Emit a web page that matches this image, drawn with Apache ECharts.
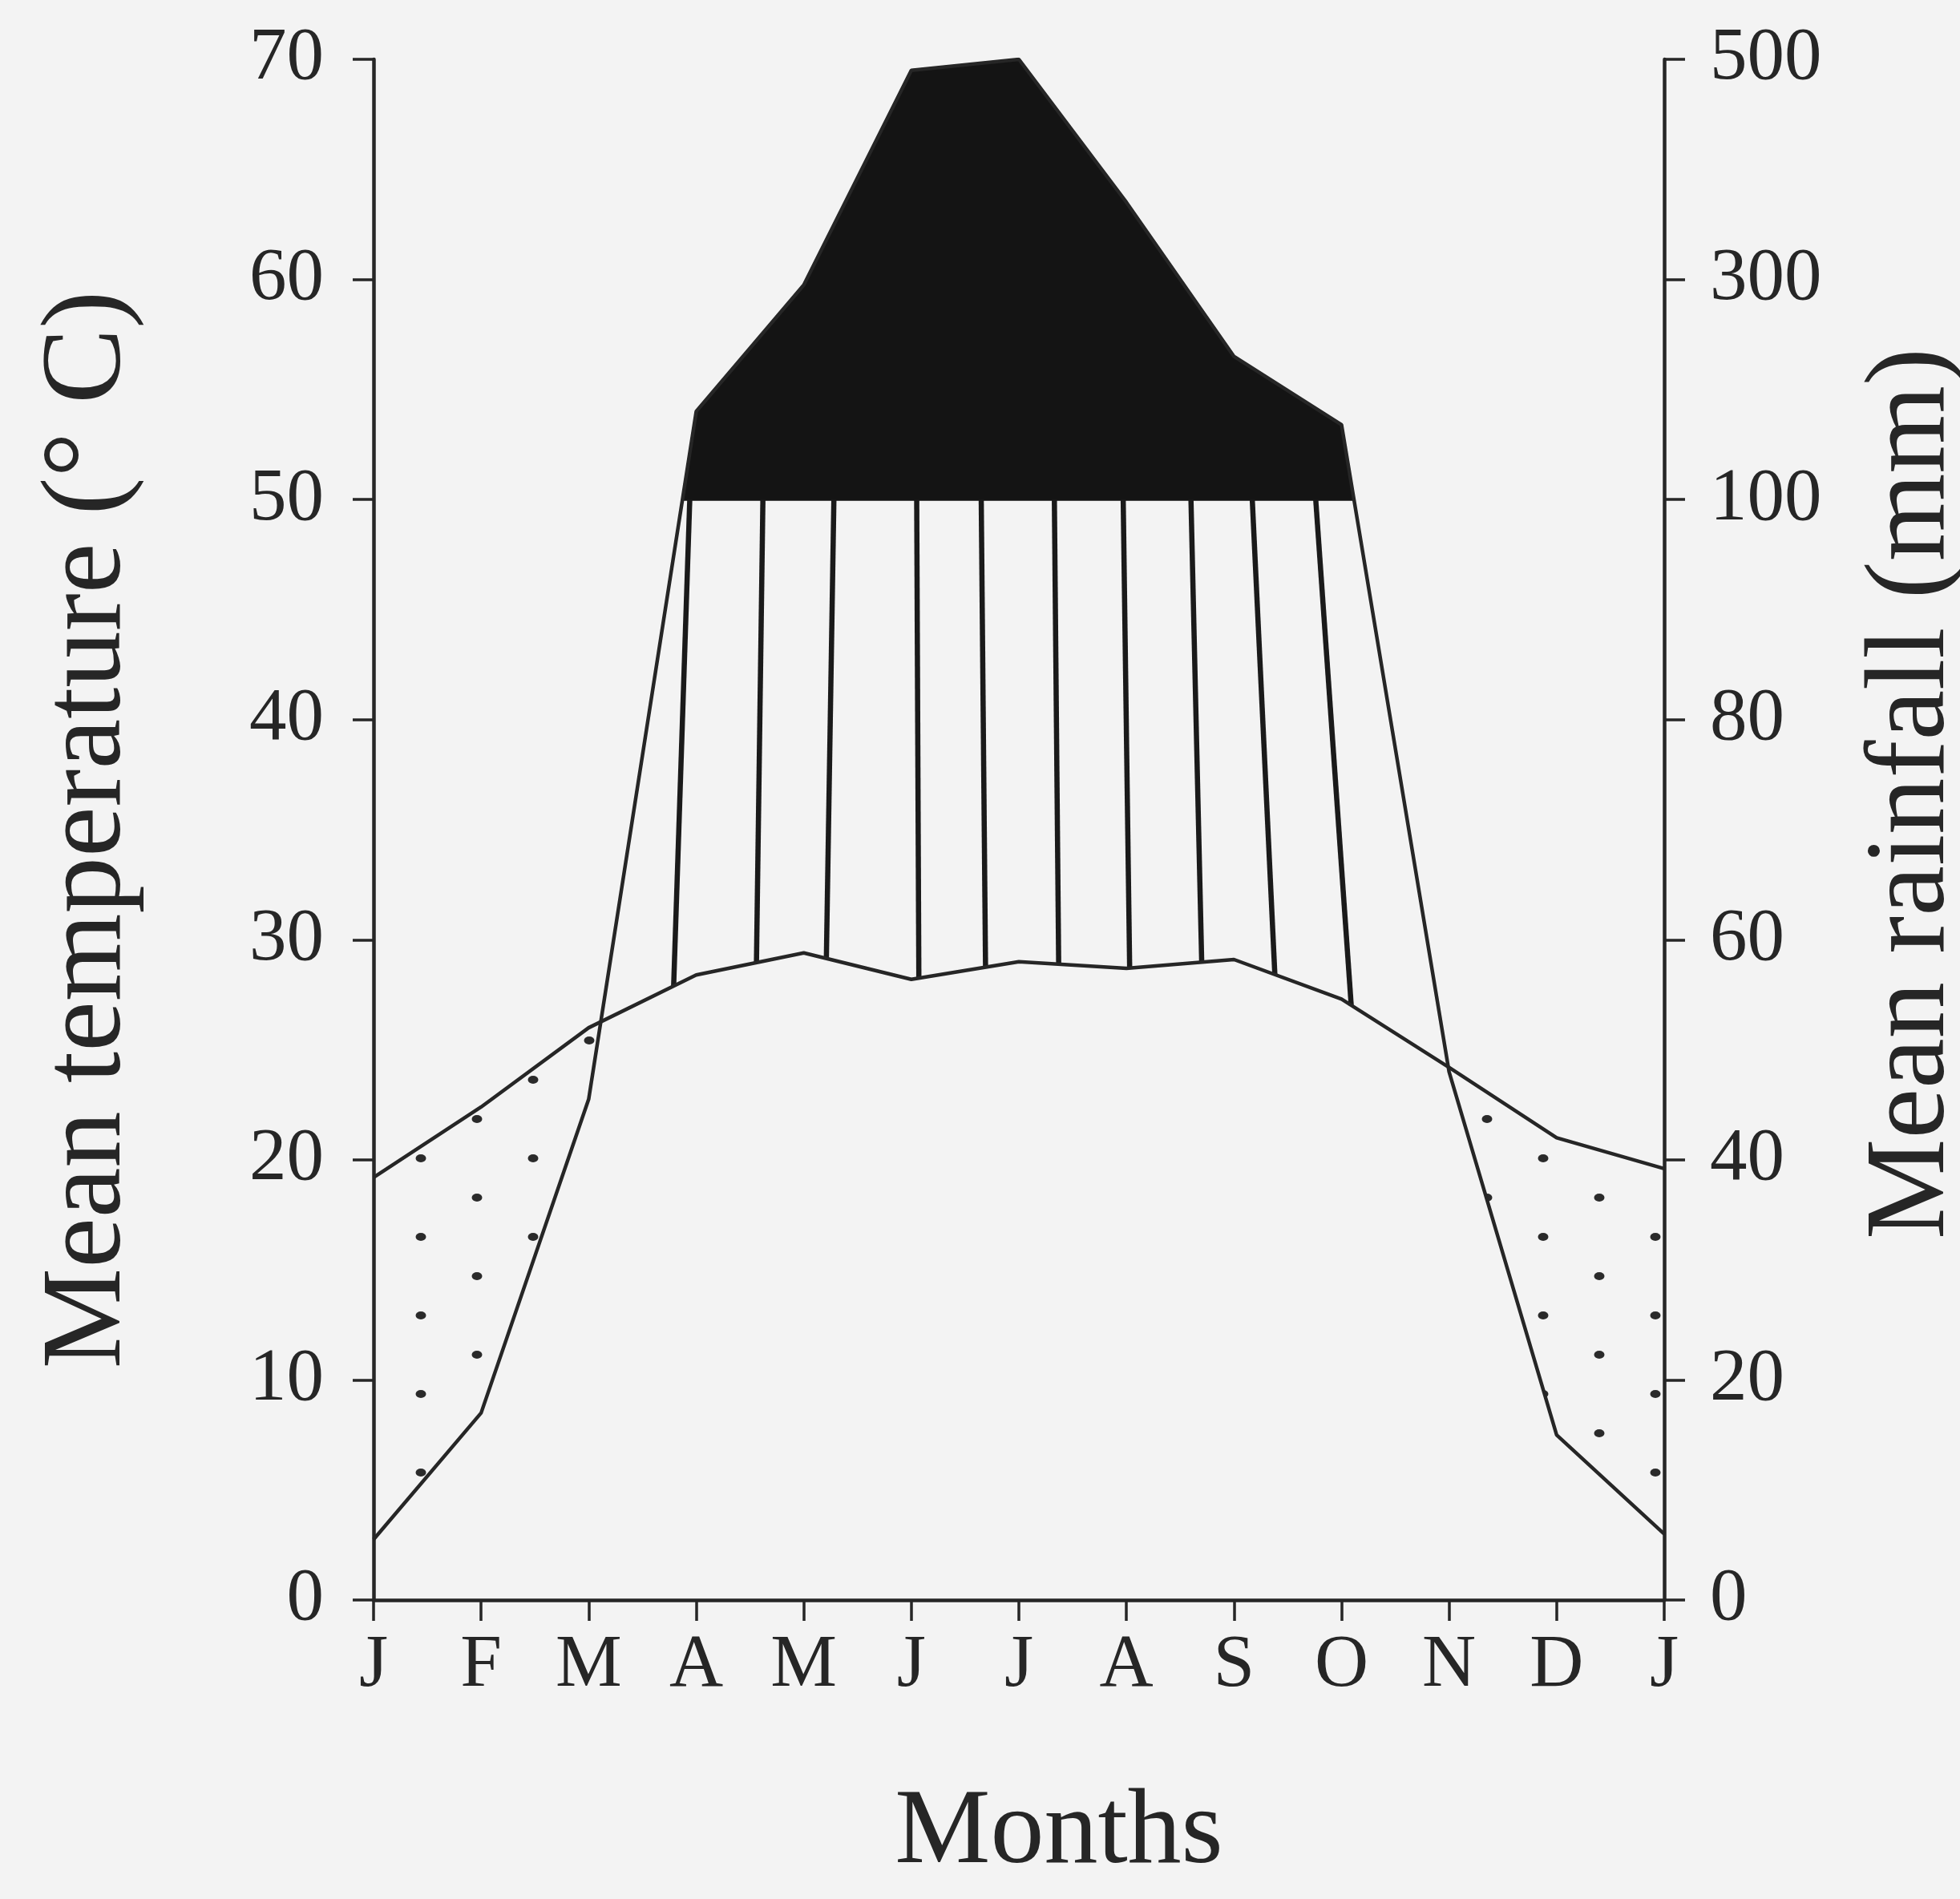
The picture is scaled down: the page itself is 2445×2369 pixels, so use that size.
<!DOCTYPE html>
<html>
<head>
<meta charset="utf-8">
<script src="https://cdn.jsdelivr.net/npm/echarts@6/dist/echarts.min.js"></script>
<style>
html,body{margin:0;padding:0;background:#f3f3f3;}
#chart{width:2445px;height:2369px;}
</style>
</head>
<body>
<div id="chart"></div>
<script>
// ---- data ----
const monthLabels = ['J','F','M','A','M','J','J','A','S','O','N','D','J'];
const temperature = [19.2, 22.4, 26.0, 28.4, 29.4, 28.2, 29.0, 28.7, 29.1, 27.3, 24.2, 21.0, 19.6]; // °C
const rainfall = [5.5, 17, 45.5, 180, 295, 490, 500, 370, 230, 168, 48, 15, 6]; // mm
const tempTickLabels = ['0','10','20','30','40','50','60','70'];
const rainTickLabels = ['0','20','40','60','80','100','300','500'];
// humid-season hatch strokes (month position at top and at bottom of each stroke)
const hatchTop = [2.94, 3.62, 4.28, 5.05, 5.65, 6.33, 6.97, 7.60, 8.17, 8.76];
const hatchBottom = [2.79, 3.56, 4.21, 5.07, 5.69, 6.37, 7.03, 7.70, 8.38, 9.09];

// rainfall scale: 0-100 mm -> 0-50 (2 mm per degree), above 100 mm compressed (20 mm per degree)
function rainToAxis(mm){ return mm <= 100 ? mm / 2 : 50 + (mm - 100) / 20; }
const rainAxis = rainfall.map(rainToAxis);
const wetLimit = 50;

function interp(arr, x){
  const i = Math.min(Math.floor(x), arr.length - 2);
  const t = x - i;
  return arr[i] + t * (arr[i + 1] - arr[i]);
}
function regions(up, lo){
  const polys = []; let top = [], bot = [];
  for (let i = 0; i < up.length; i++){
    const d = up[i] - lo[i];
    if (i > 0){
      const dp = up[i-1] - lo[i-1];
      if ((dp > 0) !== (d > 0)){
        const t = dp / (dp - d);
        const x = i - 1 + t;
        const y = up[i-1] + t * (up[i] - up[i-1]);
        top.push([x, y]); bot.push([x, y]);
        if (dp > 0){ polys.push(top.concat(bot.reverse())); top = []; bot = []; }
      }
    }
    if (d > 0){ top.push([i, up[i]]); bot.push([i, lo[i]]); }
  }
  if (top.length) polys.push(top.concat(bot.reverse()));
  return polys;
}
const xIdx = monthLabels.map((m, i) => i);
const limitArr = xIdx.map(() => wetLimit);
const wetPolys = regions(rainAxis, limitArr);
const aridPolys = regions(temperature, rainAxis);

// dot pattern for arid periods
const pc = document.createElement('canvas');
pc.width = 140; pc.height = 98;
const pctx = pc.getContext('2d');
pctx.fillStyle = '#2a2a2a';
[[35, 24], [105, 73]].forEach(p => { pctx.beginPath(); pctx.ellipse(p[0], p[1], 6.5, 5, 0, 0, Math.PI * 2); pctx.fill(); });

const font = 'Liberation Serif';
const ink = '#262626';
const chart = echarts.init(document.getElementById('chart'));

function polyRender(polys, style){
  return function(params, api){
    return {
      type: 'group',
      children: polys.map(p => ({
        type: 'polygon',
        shape: { points: p.map(pt => api.coord(pt)) },
        style: style
      }))
    };
  };
}

chart.setOption({
  backgroundColor: '#f3f3f3',
  animation: false,
  grid: { left: 466, right: 369, top: 74, bottom: 373, containLabel: false, outerBoundsMode: 'none' },
  xAxis: {
    type: 'value', min: 0, max: 12, interval: 1,
    axisLine: { onZero: false, lineStyle: { color: ink, width: 4.5 } },
    axisTick: { length: 26, lineStyle: { color: ink, width: 3.5 } },
    axisLabel: { formatter: v => monthLabels[v], fontFamily: font, fontSize: 93, color: ink, margin: 36 },
    splitLine: { show: false },
    name: 'Months', nameLocation: 'middle', nameGap: 225,
    nameTextStyle: { fontFamily: font, fontSize: 134, color: ink, padding: [0, 0, 0, 100] }
  },
  yAxis: [
    {
      type: 'value', min: 0, max: 70, interval: 10, position: 'left',
      axisLine: { show: true, lineStyle: { color: ink, width: 4.5 } },
      axisTick: { show: true, length: 26, lineStyle: { color: ink, width: 3.5 } },
      axisLabel: { formatter: v => tempTickLabels[v / 10], fontFamily: font, fontSize: 93, color: ink, margin: 62 },
      splitLine: { show: false },
      name: 'Mean temperature (° C)', nameLocation: 'middle', nameGap: 284, nameRotate: 90,
      nameTextStyle: { fontFamily: font, fontSize: 141, color: ink }
    },
    {
      type: 'value', min: 0, max: 70, interval: 10, position: 'right',
      axisLine: { show: true, lineStyle: { color: ink, width: 4.5 } },
      axisTick: { show: true, length: 26, lineStyle: { color: ink, width: 3.5 } },
      axisLabel: { formatter: v => rainTickLabels[v / 10], fontFamily: font, fontSize: 93, color: ink, margin: 57 },
      splitLine: { show: false },
      name: 'Mean rainfall (mm)', nameLocation: 'middle', nameGap: 240, nameRotate: 90,
      nameTextStyle: { fontFamily: font, fontSize: 141, color: ink, padding: [0, 0, 0, 90] }
    }
  ],
  series: [
    {
      type: 'custom', name: 'arid', silent: true, z: 1,
      data: [[0, 0]],
      renderItem: polyRender(aridPolys, { fill: { image: pc, repeat: 'repeat' }, stroke: null })
    },
    {
      type: 'custom', name: 'wet', silent: true, z: 2,
      data: [[0, 0]],
      renderItem: polyRender(wetPolys, { fill: '#141414', stroke: '#141414', lineWidth: 3 })
    },
    {
      type: 'custom', name: 'humid', silent: true, z: 3,
      data: [[0, 0]],
      renderItem: function(params, api){
        return {
          type: 'group',
          children: hatchTop.map((xt, i) => {
            const xb = hatchBottom[i];
            const p1 = api.coord([xt, Math.min(interp(rainAxis, xt), wetLimit)]);
            const p2 = api.coord([xb, interp(temperature, xb)]);
            return { type: 'line', shape: { x1: p1[0], y1: p1[1], x2: p2[0], y2: p2[1] },
                     style: { stroke: '#1a1a1a', lineWidth: 6.5 } };
          })
        };
      }
    },
    {
      type: 'line', name: 'Temperature', z: 4,
      data: temperature.map((v, i) => [i, v]),
      showSymbol: false, symbol: 'none',
      lineStyle: { color: '#262626', width: 4.5 }
    },
    {
      type: 'line', name: 'Rainfall', z: 4,
      data: rainAxis.map((v, i) => [i, v]),
      showSymbol: false, symbol: 'none',
      lineStyle: { color: '#262626', width: 4.5 }
    }
  ]
});
</script>
</body>
</html>
